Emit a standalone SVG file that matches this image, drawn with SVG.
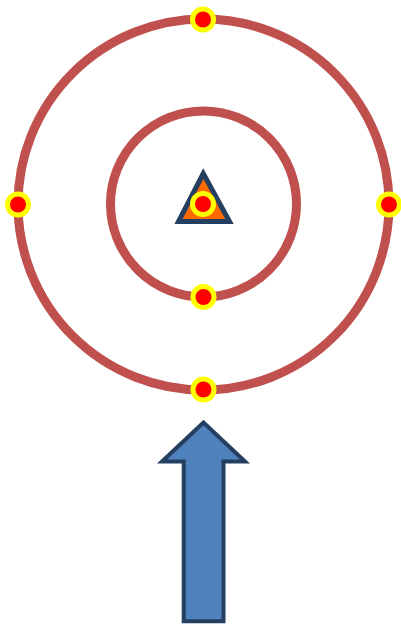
<svg xmlns="http://www.w3.org/2000/svg" width="401" height="624" viewBox="0 0 401 624">
  <style>
    .orbit { fill: none; stroke: #C0504D; stroke-width: 9; }
    .dot { fill: #FF0000; stroke: #FFFF00; stroke-width: 5; }
    .outline { stroke: #243F60; stroke-linejoin: miter; }
  </style>
  <rect width="401" height="624" fill="#FFFFFF"/>
  <g id="orbits">
    <circle id="outer-orbit" class="orbit" cx="203.5" cy="204.5" r="185.5"/>
    <circle id="inner-orbit" class="orbit" cx="203.5" cy="204" r="93"/>
  </g>
  <g id="nucleus">
    <polygon class="outline" points="203.3,173.5 178.5,221.5 229.5,221.5" fill="#FF6A00" stroke-width="5"/>
    <circle class="dot" cx="203" cy="204" r="10.5"/>
  </g>
  <g id="electrons">
    <circle class="dot" cx="203" cy="19.5" r="10.5"/>
    <circle class="dot" cx="18" cy="204.5" r="10.5"/>
    <circle class="dot" cx="389" cy="204.5" r="10.5"/>
    <circle class="dot" cx="203.5" cy="297" r="10.5"/>
    <circle class="dot" cx="203.5" cy="389.5" r="10.5"/>
  </g>
  <g id="arrow">
    <path class="outline" d="M203.5,422.5 L162,461.5 L183.7,461.5 L183.7,621.3 L223.5,621.3 L223.5,461.5 L245,461.5 Z" fill="#4F81BD" stroke-width="4"/>
  </g>
</svg>
